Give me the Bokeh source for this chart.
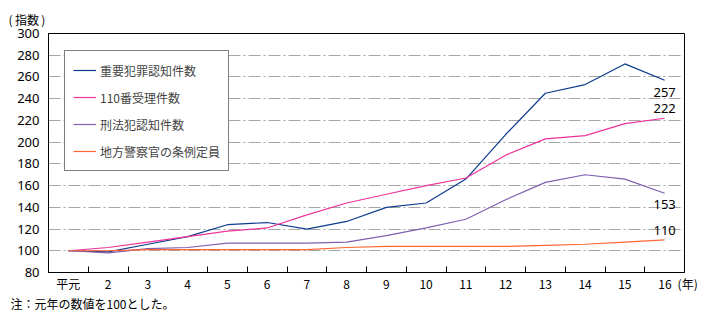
from bokeh.plotting import figure
from bokeh.models import (FixedTicker, Legend, LegendItem, Label, Range1d, Title)
from bokeh.embed import file_html
from bokeh.resources import INLINE

categories = ["平元", "2", "3", "4", "5", "6", "7", "8", "9", "10", "11", "12", "13", "14", "15", "16"]
juyo = [100, 99, 106, 113, 124, 126, 120, 127, 140, 144, 166, 207, 245, 253, 272, 257]
tsuho110 = [100, 103, 108, 113, 118, 121, 133, 144, 152, 160, 167, 188, 203, 206, 217, 222]
keiho = [100, 98, 102, 103, 107, 107, 107, 108, 114, 121, 129, 147, 163, 170, 166, 153]
keisatsukan = [100, 100, 101, 101, 101, 101, 101, 103, 104, 104, 104, 104, 105, 106, 108, 110]
series_names = ["重要犯罪認知件数", "110番受理件数", "刑法犯認知件数", "地方警察官の条例定員"]
end_labels = ["257", "222", "153", "110"]
y_ticks = [80, 100, 120, 140, 160, 180, 200, 220, 240, 260, 280, 300]

colors = ["#0B3A8F", "#EE3399", "#7F5FAF", "#FF6633"]
num_font = "Noto Sans"
cjk_font = "Noto Sans CJK JP"

n = len(categories)
xs = [i + 0.5 for i in range(n)]

p = figure(width=711, height=323, output_backend="svg", toolbar_location=None,
           x_range=Range1d(0, n), y_range=Range1d(80, 300),
           min_border_left=48, min_border_right=27, min_border_top=33, min_border_bottom=51)
p.outline_line_color = "black"
p.outline_line_width = 1
p.background_fill_color = "white"

# title "(指数)"
p.title.text = "(\u2009指数\u2009)"
p.title.align = "left"
p.title.offset = -40
p.title.standoff = 12
p.title.text_font = cjk_font
p.title.text_font_size = "12px"
p.title.text_font_style = "normal"
p.title.text_color = "black"

# axes
labels = dict(zip(xs, categories))
labels[xs[-1]] = "\u2003\u2003\u00a016\u2002(年)"
p.xaxis.ticker = FixedTicker(ticks=xs, minor_ticks=list(range(1, n)))
p.xaxis.major_label_overrides = labels
p.xaxis.major_tick_line_color = None
p.xaxis.major_tick_out = 0
p.xaxis.major_tick_in = 0
p.xaxis.minor_tick_in = 6
p.xaxis.minor_tick_out = 0
p.xaxis.minor_tick_line_color = "black"
p.xaxis.axis_line_color = "black"
p.xaxis.major_label_text_font = cjk_font
p.xaxis.major_label_text_font_size = "12px"
p.xaxis.major_label_text_color = "black"
p.xaxis.major_label_standoff = 2

p.yaxis.ticker = FixedTicker(ticks=y_ticks)
p.yaxis.major_tick_line_color = None
p.yaxis.minor_tick_line_color = None
p.yaxis.major_tick_out = 0
p.yaxis.major_tick_in = 0
p.yaxis.axis_line_color = "black"
p.yaxis.major_label_text_font = num_font
p.yaxis.major_label_text_font_size = "13px"
p.yaxis.major_label_text_color = "black"
p.yaxis.major_label_standoff = 9

p.xgrid.grid_line_color = None
p.ygrid.ticker = FixedTicker(ticks=y_ticks[1:-1])
p.ygrid.grid_line_color = "#A6A6A6"
p.ygrid.grid_line_dash = "12 3 2 3"
p.ygrid.grid_line_width = 1

renderers = []
for vals, col in zip([juyo, tsuho110, keiho, keisatsukan], colors):
    r = p.line(xs, vals, line_color=col, line_width=1.2)
    renderers.append(r)

legend = Legend(items=[LegendItem(label=nm, renderers=[r]) for nm, r in zip(series_names, renderers)],
                location=(16, 101))
legend.border_line_color = "black"
legend.border_line_width = 1
legend.padding = 8
legend.spacing = 5
legend.margin = 0
legend.label_height = 22
legend.glyph_height = 22
legend.glyph_width = 23
legend.label_standoff = 4
legend.label_text_font = cjk_font
legend.label_text_font_size = "12px"
legend.background_fill_alpha = 1
p.add_layout(legend, "center")

# end value labels
offsets = [-12, 10, -11, 9]
for vals, txt, off in zip([juyo, tsuho110, keiho, keisatsukan], end_labels, offsets):
    p.add_layout(Label(x=xs[-1], y=vals[-1], text=txt, y_offset=off, text_align="center",
                       text_baseline="middle", text_font=num_font, text_font_size="13px",
                       text_color="black"))

# note below
note = Title(text="注：元年の数値を100とした。", align="left", offset=-38, standoff=-3,
             text_font=cjk_font, text_font_size="12px", text_font_style="normal",
             text_color="black")
p.add_layout(note, "below")

open("out.html", "w").write(file_html(p, INLINE))
